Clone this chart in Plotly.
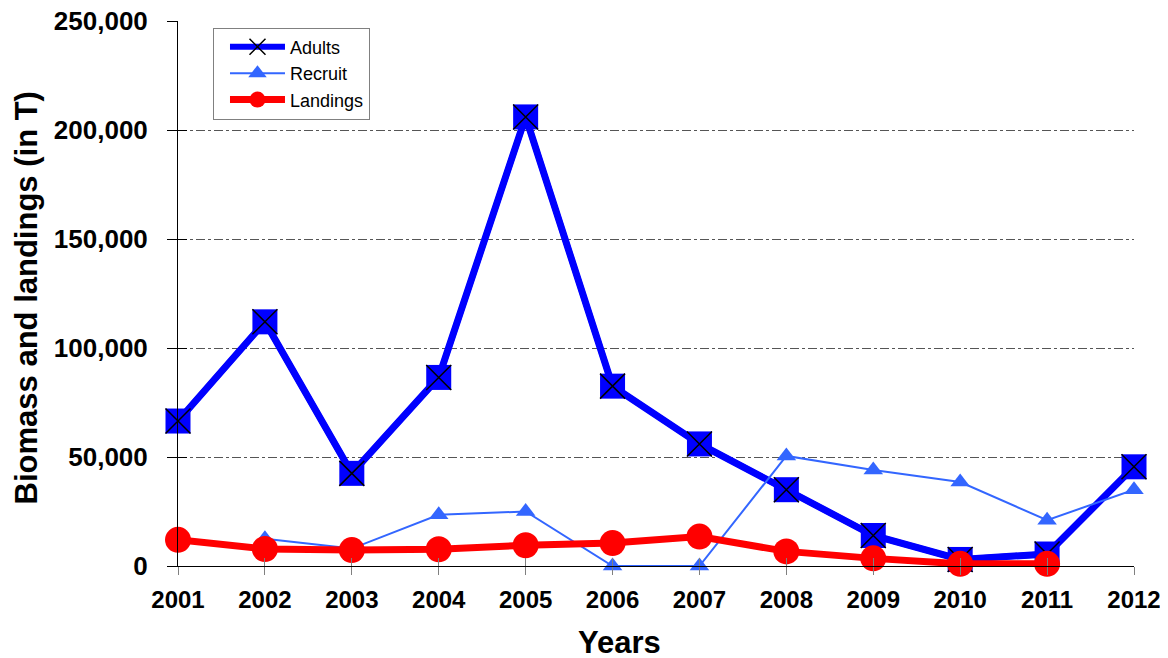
import plotly.graph_objects as go

years = list(range(2001, 2013))
adults = [66500, 112000, 42500, 86500, 206000, 82500, 56000, 35000, 14000, 3000, 5500, 45500]
recruit = [None, 12500, 8000, 23500, 25000, 0, 0, 50500, 44000, 38500, 21000, 35000]
landings = [12000, 7800, 7300, 7700, 9500, 10500, 13500, 6700, 3500, 1000, 1000, None]

y_ticks = [0, 50000, 100000, 150000, 200000, 250000]
grid_vals = [50000, 100000, 150000, 200000]

FONT = "Arial, Liberation Sans, sans-serif"
BLUE = "#0000FF"
RBLUE = "#3366FF"
RED = "#FF0000"

fig = go.Figure()

# invisible helpers so the overlay axes (cross ticks, grid) are rendered
fig.add_trace(go.Scatter(x=[years[0]], y=[y_ticks[0]], xaxis="x2", yaxis="y2",
                         mode="markers", marker=dict(opacity=0), showlegend=False,
                         hoverinfo="skip"))
fig.add_trace(go.Scatter(x=[years[0]], y=[y_ticks[0]], xaxis="x", yaxis="y3",
                         mode="markers", marker=dict(opacity=0), showlegend=False,
                         hoverinfo="skip"))

# Adults: squares (blue) then black X overlay (legend entry)
fig.add_trace(go.Scatter(
    x=years, y=adults, mode="lines+markers", showlegend=False,
    line=dict(color=BLUE, width=7),
    marker=dict(symbol="square", size=25, color=BLUE, line=dict(width=0)),
    cliponaxis=False, hoverinfo="skip"))
fig.add_trace(go.Scatter(
    x=years, y=adults, mode="lines+markers", name="Adults",
    line=dict(color=BLUE, width=6),
    marker=dict(symbol="x-thin-open", size=25, color="black",
                line=dict(width=1.5, color="black")),
    cliponaxis=False))
fig.add_trace(go.Scatter(
    x=years, y=recruit, mode="lines+markers", name="Recruit",
    line=dict(color=RBLUE, width=2),
    marker=dict(symbol="triangle-up", size=17, color=RBLUE),
    cliponaxis=False))
fig.add_trace(go.Scatter(
    x=years, y=landings, mode="lines+markers", name="Landings",
    line=dict(color=RED, width=7),
    marker=dict(symbol="circle", size=26, color=RED),
    cliponaxis=False))

fig.update_layout(
    width=1168, height=658,
    margin=dict(l=170, r=42, t=13, b=100, autoexpand=False),
    paper_bgcolor="white", plot_bgcolor="white",
    font=dict(family=FONT, color="black"),
    showlegend=True,
    legend=dict(x=0.0366, y=0.988, xanchor="left", yanchor="top",
                bgcolor="white", bordercolor="#808080", borderwidth=1,
                font=dict(size=18, family=FONT), itemwidth=55,
                indentation=11, tracegroupgap=0),
    xaxis=dict(range=[2001, 2012], tickvals=years, ticktext=[str(y) for y in years],
               showgrid=False, zeroline=False, showline=True, linecolor="black",
               linewidth=1, ticks="outside", ticklen=8, tickcolor="#808080",
               tickfont=dict(size=24, family=FONT, color="black", weight="bold"),
               ticklabelstandoff=4, automargin=False, ticklabeloverflow="allow"),
    xaxis2=dict(range=[2001, 2012], tickvals=years, overlaying="x", anchor="y",
                side="bottom", showgrid=False, zeroline=False, showline=False,
                ticks="inside", ticklen=8, tickcolor="#808080",
                showticklabels=False, automargin=False),
    yaxis=dict(range=[0, 250000], tickvals=y_ticks, tickformat=",d",
               showgrid=False, zeroline=False, showline=True, linecolor="black",
               linewidth=1, ticks="outside", ticklen=10, tickcolor="black",
               tickfont=dict(size=26, family=FONT, color="black", weight="bold"),
               ticklabelstandoff=14, automargin=False, ticklabeloverflow="allow"),
    yaxis2=dict(range=[0, 250000], tickvals=y_ticks, overlaying="y", anchor="x",
                side="left", showgrid=False, zeroline=False, showline=False,
                ticks="inside", ticklen=9, tickcolor="black",
                showticklabels=False, automargin=False),
    yaxis3=dict(range=[0, 250000], tickvals=grid_vals, overlaying="y", anchor="x",
                side="left", showgrid=True, gridcolor="#555555", gridwidth=1,
                griddash="dashdot", zeroline=False, showline=False,
                ticks="", showticklabels=False, automargin=False),
    annotations=[
        dict(text="<b>Years</b>", xref="paper", yref="paper",
             x=0.462, y=-0.141, xanchor="center", yanchor="middle",
             showarrow=False, font=dict(size=31, family=FONT, color="black")),
        dict(text="<b>Biomass and landings (in T)</b>", xref="paper", yref="paper",
             x=-0.158, y=0.4927, xanchor="center", yanchor="middle", textangle=-90,
             showarrow=False, font=dict(size=31, family=FONT, color="black")),
    ],
)

fig.write_html("out.html")
